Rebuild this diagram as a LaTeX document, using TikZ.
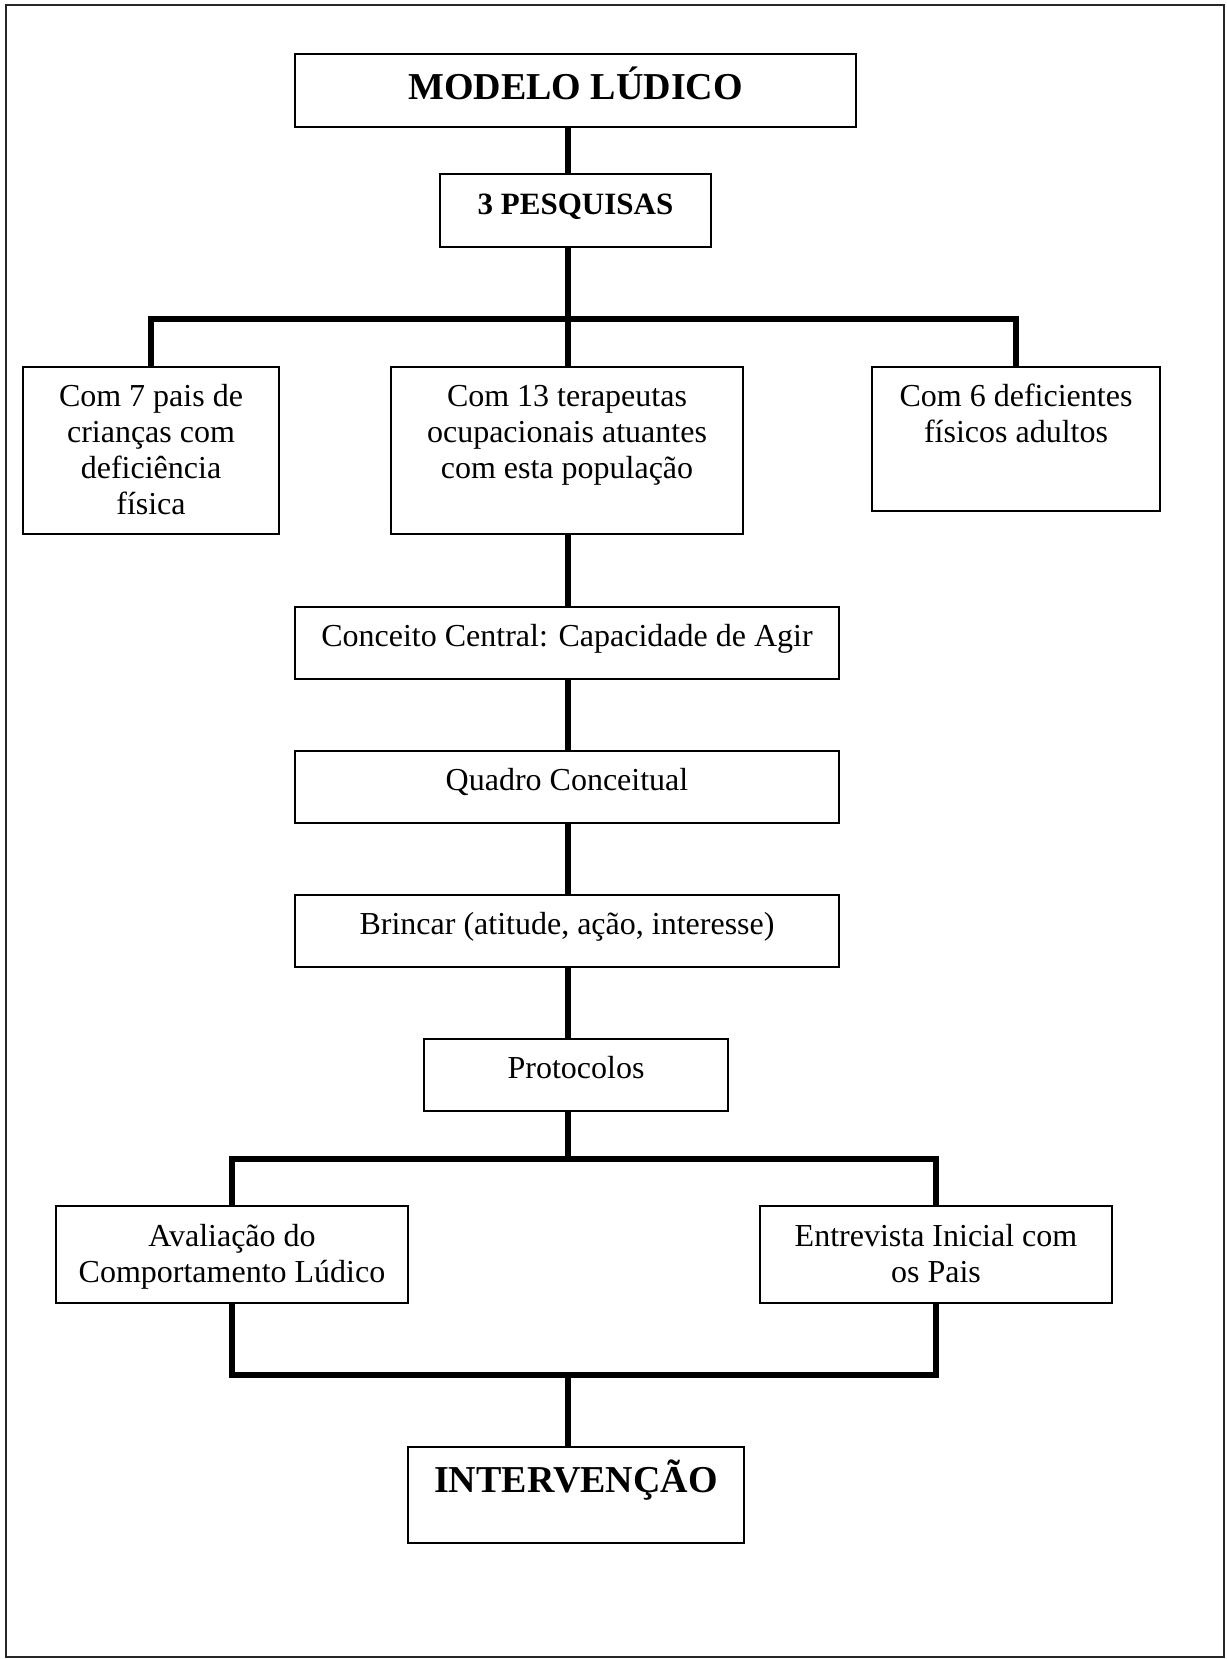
\documentclass[tikz,border=0pt]{standalone}
\usepackage{fontspec}
\setmainfont{Liberation Serif}
\usetikzlibrary{positioning}
\tikzstyle{caixa}=[draw, line width=1.2pt, inner sep=0pt]
\tikzstyle{rotulo}=[inner sep=0pt, align=center, anchor=base, font=\fontsize{16}{18}\selectfont]
\tikzstyle{titulo}=[inner sep=0pt, align=center, anchor=base, font=\fontsize{19}{22}\selectfont\bfseries]
\tikzstyle{linha}=[line width=2.75pt]
\tikzstyle{barra}=[line width=3pt]

\begin{document}
\begin{tikzpicture}[x=0.5pt, y=-0.5pt]
    \useasboundingbox (0,0) rectangle (1226,1659);
    \draw[line width=1pt, black!85] (6,5) rectangle (1224,1657);

    \node[caixa, minimum width=280.5pt, minimum height=36.5pt] (modelo) at (575.5,90.5) {};
    \node[titulo] (modelot) at ([yshift=-23.5pt]modelo.north) {MODELO LÚDICO};
    \node[caixa, minimum width=135.5pt, minimum height=36.5pt] (pesq) at (575.5,210.5) {};
    \node[titulo, font=\fontsize{15.5}{18}\selectfont\bfseries] (pesqt) at ([yshift=-21pt]pesq.north) {3 PESQUISAS};

    \node[caixa, minimum width=128pt, minimum height=83.5pt] (pais) at (151,450.5) {};
    \node[rotulo] (paist) at ([yshift=-74.5pt]pais.north) {Com 7 pais de\\crianças com\\deficiência\\física};
    \node[caixa, minimum width=176pt, minimum height=83.5pt] (terap) at (567,450.5) {};
    \node[rotulo] (terapt) at ([yshift=-56.5pt]terap.north) {Com 13 terapeutas\\ocupacionais atuantes\\com esta população};
    \node[caixa, minimum width=144pt, minimum height=72pt] (adultos) at (1016,439) {};
    \node[rotulo] (adultost) at ([yshift=-38.5pt]adultos.north) {Com 6 deficientes\\físicos adultos};

    \node[caixa, minimum width=272pt, minimum height=36pt] (conceito) at (567,643) {};
    \node[rotulo] (conceitot) at ([yshift=-20.5pt]conceito.north) {Conceito Central: Capacidade de Agir};
    \node[caixa, minimum width=272pt, minimum height=36pt] (quadro) at (567,787) {};
    \node[rotulo] (quadrot) at ([yshift=-20.5pt]quadro.north) {Quadro Conceitual};
    \node[caixa, minimum width=272pt, minimum height=36pt] (brincar) at (567,931) {};
    \node[rotulo] (brincart) at ([yshift=-20.5pt]brincar.north) {Brincar (atitude, ação, interesse)};
    \node[caixa, minimum width=152pt, minimum height=36pt] (protocolos) at (576,1075) {};
    \node[rotulo] (protocolost) at ([yshift=-20.5pt]protocolos.north) {Protocolos};

    \node[caixa, minimum width=176pt, minimum height=48.5pt] (avaliacao) at (232,1254.5) {};
    \node[rotulo] (avaliacaot) at ([yshift=-39pt]avaliacao.north) {Avaliação do\\Comportamento Lúdico};
    \node[caixa, minimum width=176pt, minimum height=48.5pt] (entrevista) at (936,1254.5) {};
    \node[rotulo] (entrevistat) at ([yshift=-39pt]entrevista.north) {Entrevista Inicial com\\os Pais};
    \node[caixa, minimum width=168pt, minimum height=48pt] (intervencao) at (576,1495) {};
    \node[titulo] (intervencaot) at ([yshift=-23.5pt]intervencao.north) {INTERVENÇÃO};

    \coordinate (hubA) at (568,318.5);
    \coordinate (hubB) at (568,1159);
    \coordinate (hubC) at (568,1375);

    \draw[linha] (modelo.south -| hubA) -- (pesq.north -| hubA);
    \draw[linha] (pesq.south -| hubA) -- (hubA);
    \draw[barra] (pais.north) |- (hubA) -| (adultos.north);
    \draw[linha] (hubA) -- (terap.north -| hubA);
    \draw[linha] (terap.south -| hubA) -- (conceito.north -| hubA);
    \draw[linha] (conceito.south -| hubA) -- (quadro.north -| hubA);
    \draw[linha] (quadro.south -| hubA) -- (brincar.north -| hubA);
    \draw[linha] (brincar.south -| hubA) -- (protocolos.north -| hubA);
    \draw[linha] (protocolos.south -| hubB) -- (hubB);
    \draw[barra] (avaliacao.north) |- (hubB) -| (entrevista.north);
    \draw[barra] (avaliacao.south) |- (hubC) -| (entrevista.south);
    \draw[linha] (hubC) -- (intervencao.north -| hubC);
\end{tikzpicture}
\end{document}
